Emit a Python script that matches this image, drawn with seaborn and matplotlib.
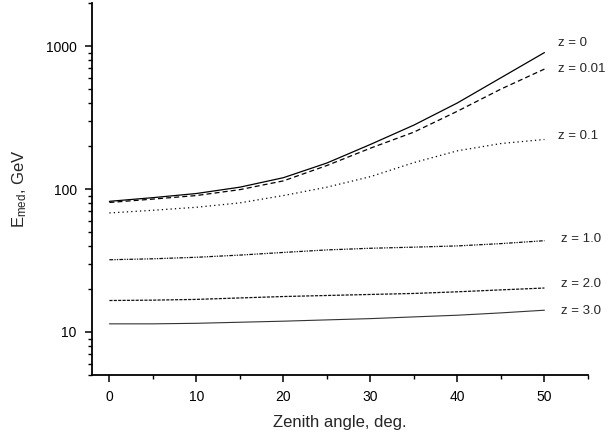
import numpy as np
import pandas as pd
import matplotlib
matplotlib.use("Agg")
import matplotlib.pyplot as plt
import seaborn as sns
from matplotlib.ticker import LogLocator, FixedLocator, NullFormatter, FuncFormatter

# ---- data ----
angles = [0, 5, 10, 15, 20, 25, 30, 35, 40, 45, 50]
e_z0    = [82, 87, 93, 103, 120, 152, 205, 280, 400, 600, 900]
e_z001  = [80.5, 85, 90, 99, 114, 146, 193, 250, 350, 500, 690]
e_z01   = [68, 71, 74.5, 80, 90, 103, 122, 153, 185, 208, 222]
e_z1    = [32.0, 32.5, 33.3, 34.5, 36.0, 37.5, 38.5, 39.2, 40.0, 41.5, 43.5]
e_z2    = [16.6, 16.7, 16.9, 17.3, 17.7, 18.0, 18.3, 18.6, 19.1, 19.7, 20.3]
e_z3    = [11.4, 11.4, 11.5, 11.7, 11.9, 12.15, 12.4, 12.75, 13.1, 13.6, 14.2]
labels  = ["z = 0", "z = 0.01", "z = 0.1", "z = 1.0", "z = 2.0", "z = 3.0"]
label_x = [51.6, 51.6, 51.6, 51.9, 51.9, 51.9]
label_y = [1045, 687, 235, 44.8, 21.7, 14.1]
x_ticks = [0, 10, 20, 30, 40, 50]
y_ticks = [10, 100, 1000]

series = [e_z0, e_z001, e_z01, e_z1, e_z2, e_z3]
styles = ["-", (0, (4, 2.5)), (0, (1, 2.5)), (0, (3, 1, 1, 1, 1, 1)), (0, (2.5, 1)), "-"]
colors = ["black", "black", "black", "#111111", "#111111", "#333333"]
widths = [0.9, 0.9, 0.9, 0.9, 0.9, 0.8]

sns.set_theme(style="ticks")
plt.rcParams["font.family"] = ["Liberation Sans", "DejaVu Sans"]
plt.rcParams["mathtext.fontset"] = "custom"
plt.rcParams["mathtext.rm"] = "Liberation Sans"
plt.rcParams["mathtext.it"] = "Liberation Sans"

fig = plt.figure(figsize=(6.08, 4.34), dpi=100)
ax = fig.add_axes([0.1513, 0.1359, 0.8157, 0.8572])

for vals, ls, c, w in zip(series, styles, colors, widths):
    df = pd.DataFrame({"angle": angles, "E": vals})
    sns.lineplot(data=df, x="angle", y="E", ax=ax, color=c, linestyle=ls, linewidth=w)

ax.set_yscale("log")
ax.set_xlim(-2, 55)
ax.set_ylim(5, 2000)

ax.xaxis.set_major_locator(FixedLocator(x_ticks))
ax.xaxis.set_minor_locator(FixedLocator([5, 15, 25, 35, 45, 55]))
ax.yaxis.set_major_locator(FixedLocator(y_ticks))
ax.yaxis.set_major_formatter(FuncFormatter(lambda v, p: f"{int(v)}"))
ax.yaxis.set_minor_locator(LogLocator(base=10, subs=np.arange(2, 10)))
ax.yaxis.set_minor_formatter(NullFormatter())

ax.tick_params(axis="both", which="major", direction="out", length=5, width=1.1,
               labelsize=10, color="black", labelcolor="black", pad=6)
ax.tick_params(axis="both", which="minor", direction="out", length=3, width=1.0, color="black")

for s in ["top", "right"]:
    ax.spines[s].set_visible(False)
for s in ["left", "bottom"]:
    ax.spines[s].set_linewidth(1.3)
    ax.spines[s].set_color("black")

ax.set_xlabel("Zenith angle, deg.", fontsize=12, labelpad=8)
ax.set_ylabel(r"$\mathregular{E_{med}}$, GeV", fontsize=12, labelpad=12)

for lab, lx, ly in zip(labels, label_x, label_y):
    ax.text(lx, ly, lab, fontsize=9.5, va="center", ha="left")

fig.savefig("out.png", dpi=100)
